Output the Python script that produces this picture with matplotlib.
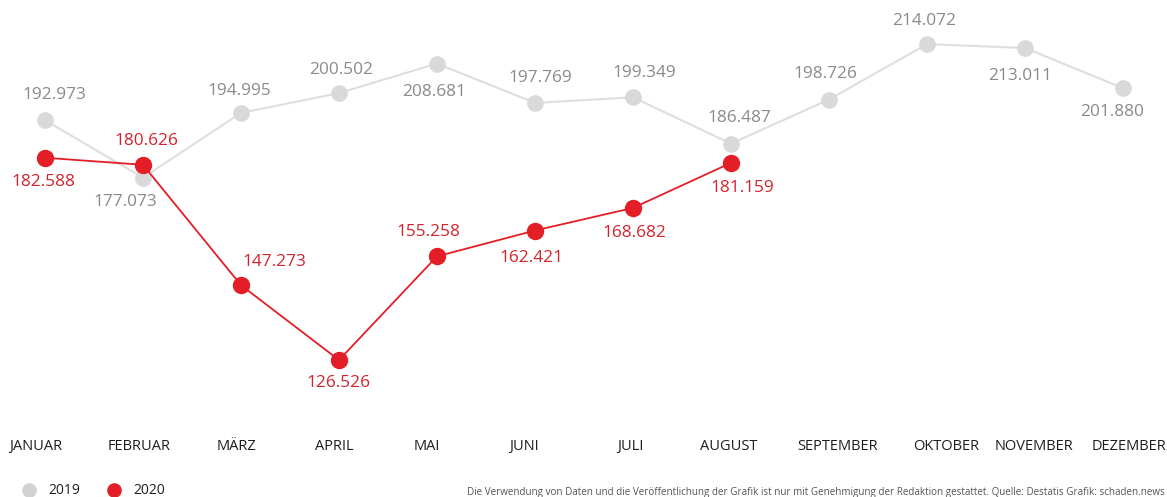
import matplotlib
matplotlib.use("Agg")
import matplotlib.pyplot as plt
from matplotlib.lines import Line2D
from matplotlib.transforms import ScaledTranslation

months = ["JANUAR", "FEBRUAR", "MÄRZ", "APRIL", "MAI", "JUNI", "JULI",
          "AUGUST", "SEPTEMBER", "OKTOBER", "NOVEMBER", "DEZEMBER"]
v2019 = [192.973, 177.073, 194.995, 200.502, 208.681, 197.769, 199.349,
         186.487, 198.726, 214.072, 213.011, 201.880]
v2020 = [182.588, 180.626, 147.273, 126.526, 155.258, 162.421, 168.682, 181.159]

# label placement offsets in pixels (dx, dy up-positive)
off2019 = [(9, 25), (-18, -24), (-2, 22), (2, 23), (-3, -28), (5, 25), (11, 24),
           (8, 26), (-4, 26), (-3, 23), (-5, -28), (-11, -24)]
off2020 = [(-2, -24), (3, 24), (33, 23), (-1, -23), (-9, 24), (-4, -27),
           (1, -25), (11, -25)]
month_dx = [-9, -4, -4, -5, -10, -11, -3, -2, 9, 19, 9, 6]

def fmt(v):
    return f"{v:.3f}"

plt.rcParams['font.family'] = ['Open Sans', 'DejaVu Sans']

W, H = 1167, 497
fig = plt.figure(figsize=(W / 100, H / 100), dpi=100)
ax = fig.add_axes([0, 67 / H, 1, 430 / H])
ax.set_xlim(-0.459, 11.449)
ax.set_ylim(107.14, 226.3)

gray_line = "#dedede"
gray_mark = "#d9d9d9"
gray_text = "#8a8a8a"
red = "#e31e26"
red_text = "#d3242e"

x19 = list(range(len(v2019)))
x20 = list(range(len(v2020)))
ax.plot(x19, v2019, color=gray_line, lw=1.5, marker="o", ms=11,
        mfc=gray_mark, mec=gray_mark, zorder=2)
ax.plot(x20, v2020, color=red, lw=1.3, marker="o", ms=11.5,
        mfc=red, mec=red, zorder=3)

px = 0.72  # points per pixel at dpi 100
for x, v, (dx, dy) in zip(x19, v2019, off2019):
    ax.annotate(fmt(v), (x, v), xytext=(dx * px, dy * px), textcoords="offset points",
                ha="center", va="center", fontsize=12.4, color=gray_text, zorder=4)
for x, v, (dx, dy) in zip(x20, v2020, off2020):
    ax.annotate(fmt(v), (x, v), xytext=(dx * px, dy * px), textcoords="offset points",
                ha="center", va="center", fontsize=12.4, color=red_text, zorder=4)

ax.set_xticks(x19)
ax.set_xticklabels(months, fontsize=10.5, color="#1e1e1e")
ax.tick_params(axis="x", length=0, pad=6.5)
for lab, dx in zip(ax.get_xticklabels(), month_dx):
    lab.set_transform(lab.get_transform() + ScaledTranslation(dx / 100, 0, fig.dpi_scale_trans))
ax.set_yticks([])
for s in ax.spines.values():
    s.set_visible(False)

handles = [Line2D([], [], ls="", marker="o", ms=9.5, mfc="#d2d2d2", mec="#d2d2d2"),
           Line2D([], [], ls="", marker="o", ms=9.5, mfc=red, mec=red)]
fig.legend(handles, ["2019", "2020"], loc="center left",
           bbox_to_anchor=(20.7 / W, 1 - 491 / H), ncol=2, frameon=False,
           fontsize=10, handletextpad=0.77, columnspacing=1.85,
           labelcolor="#1e1e1e", borderpad=0, borderaxespad=0, handlelength=1.2)

fig.text(1 - 2 / W, 1 - 492 / H,
         "Die Verwendung von Daten und die Veröffentlichung der Grafik ist nur mit "
         "Genehmigung der Redaktion gestattet. Quelle: Destatis Grafik: schaden.news",
         ha="right", va="center", fontsize=7.15, color="#555555")

fig.savefig("out.png", dpi=100)
